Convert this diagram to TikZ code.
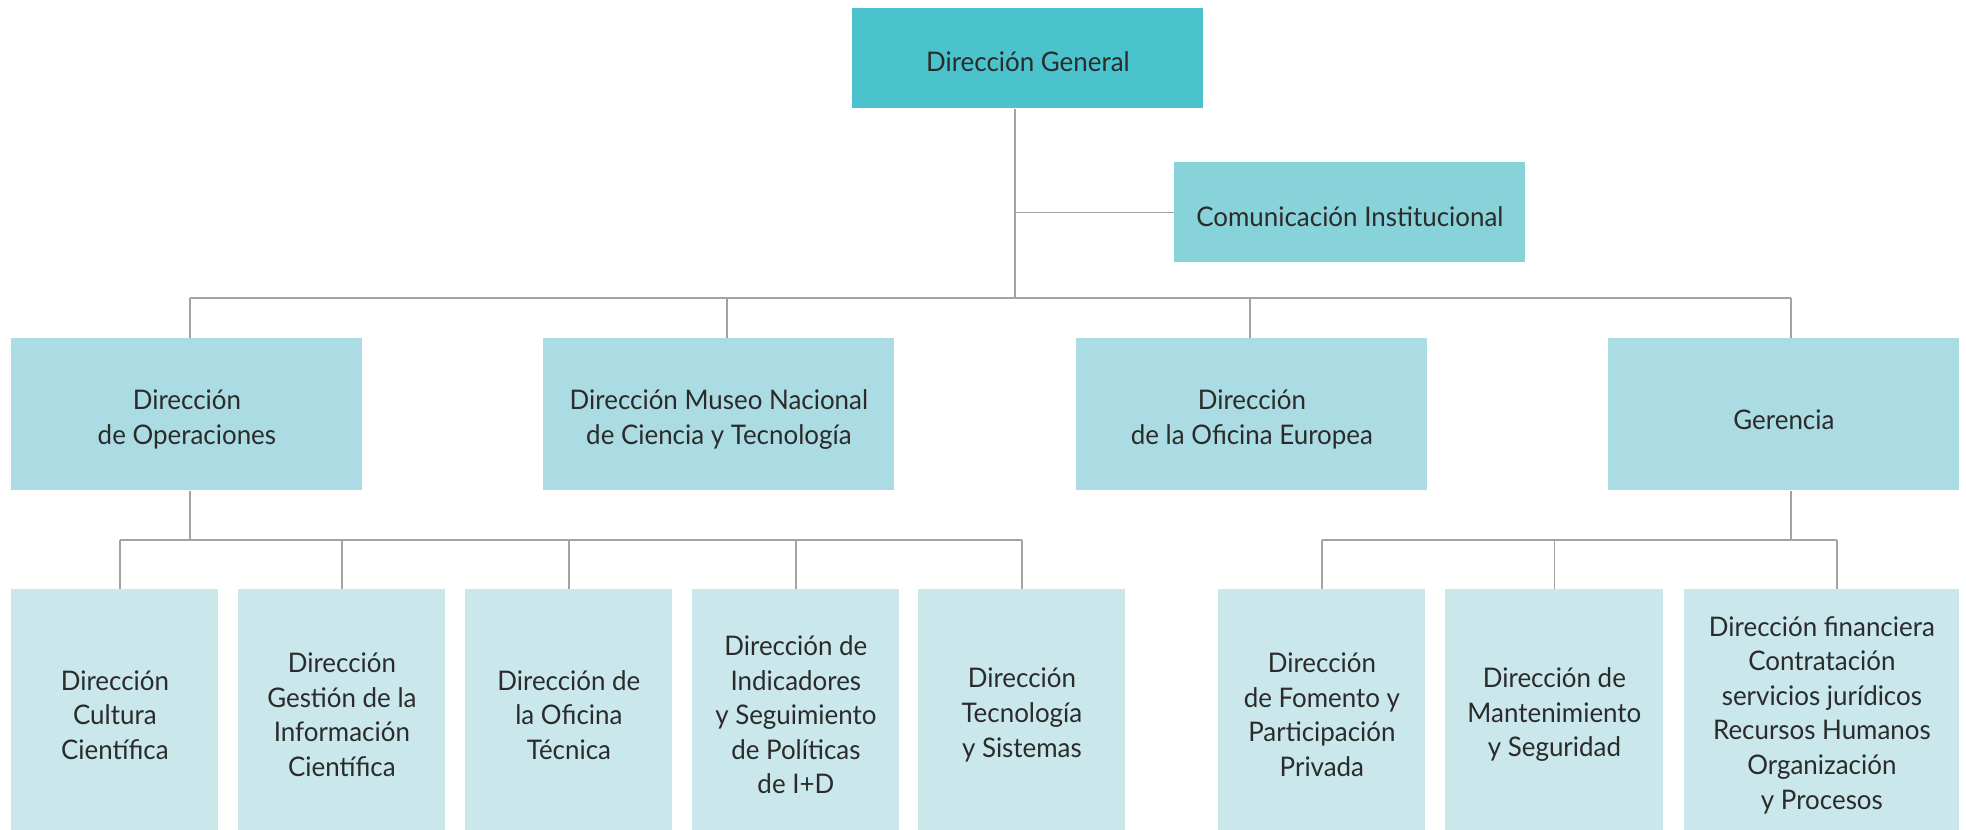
\documentclass[tikz,border=0pt]{standalone}
\usepackage{fontspec}
\setmainfont[FakeStretch=0.96]{Lato}
\definecolor{cTop}{HTML}{4BC3CC}
\definecolor{cCom}{HTML}{88D2DA}
\definecolor{cMid}{HTML}{ABDCE3}
\definecolor{cLow}{HTML}{CAE8EC}
\definecolor{cLine}{HTML}{A3A3A3}
\definecolor{cText}{HTML}{2B2B2B}
\tikzset{
  box/.style={anchor=north west, inner sep=0pt},
  txt/.style={inner sep=0pt, align=center, text=cText,
    font=\fontsize{13.5pt}{17.3pt}\selectfont},
  topbox/.style={box, fill=cTop, minimum width=175.5pt, minimum height=50pt},
  combox/.style={box, fill=cCom, minimum width=175.5pt, minimum height=50pt},
  midbox/.style={box, fill=cMid, minimum width=175.5pt, minimum height=76pt},
  lowbox/.style={box, fill=cLow, minimum height=120.5pt},
  conn/.style={draw=cLine, line width=0.75pt}
}
\begin{document}
\begin{tikzpicture}[x=0.5pt,y=-0.5pt]
\useasboundingbox (0,0) rectangle (1966,830);
% level 0/1
\node[topbox] (dg) at (852,8) {};
\node[combox] (ci) at (1174,162) {};
% level 2
\node[midbox] (op) at (11,338) {};
\node[midbox] (mu) at (543,338) {};
\node[midbox] (eu) at (1076,338) {};
\node[midbox] (ge) at (1608,338) {};
% level 3 left
\node[lowbox, minimum width=103.5pt] (l1) at (11,589) {};
\node[lowbox, minimum width=103.5pt] (l2) at (238,589) {};
\node[lowbox, minimum width=103.5pt] (l3) at (465,589) {};
\node[lowbox, minimum width=103.5pt] (l4) at (692,589) {};
\node[lowbox, minimum width=103.5pt] (l5) at (918,589) {};
% level 3 right
\node[lowbox, minimum width=103.5pt] (r1) at (1218,589) {};
\node[lowbox, minimum width=109pt] (r2) at (1445,589) {};
\node[lowbox, minimum width=137.5pt] (r3) at (1684,589) {};
% texts
\node[txt] (dgT) at ([yshift=-1.5pt]dg.center) {Dirección General};
\node[txt] (ciT) at ([yshift=-2pt]ci.center) {Comunicación Institucional};
\node[txt] (opT) at ([yshift=-2.5pt]op.center) {Dirección\\de Operaciones};
\node[txt] (muT) at ([yshift=-2.5pt]mu.center) {Dirección Museo Nacional\\de Ciencia y Tecnología};
\node[txt] (euT) at ([yshift=-2.5pt]eu.center) {Dirección\\de la Oficina Europea};
\node[txt] (geT) at ([yshift=-2.5pt]ge.center) {Gerencia};
\node[txt] (l1T) at ([yshift=-2.5pt]l1.center) {Dirección\\Cultura\\Científica};
\node[txt] (l2T) at ([yshift=-2.5pt]l2.center) {Dirección\\Gestión de la\\Información\\Científica};
\node[txt] (l3T) at ([yshift=-2.5pt]l3.center) {Dirección de\\la Oficina\\Técnica};
\node[txt] (l4T) at ([yshift=-2.5pt]l4.center) {Dirección de\\Indicadores\\y Seguimiento\\de Políticas\\de I+D};
\node[txt] (l5T) at ([yshift=-2.5pt]l5.center) {Dirección\\Tecnología\\y Sistemas};
\node[txt] (r1T) at ([yshift=-2.5pt]r1.center) {Dirección\\de Fomento y\\Participación\\Privada};
\node[txt] (r2T) at ([yshift=-2.5pt]r2.center) {Dirección de\\Mantenimiento\\y Seguridad};
\node[txt] (r3T) at ([yshift=-2.5pt]r3.center) {Dirección financiera\\Contratación\\servicios jurídicos\\Recursos Humanos\\Organización\\y Procesos};
% junction coordinates
\coordinate (tr) at (1015,298);
\coordinate (trL) at (190,298);
\coordinate (trR) at (1791,298);
\coordinate (jOp) at (190,540);
\coordinate (jOpL) at (120,540);
\coordinate (jOpR) at (1022,540);
\coordinate (jGe) at (1791,540);
\coordinate (jGeL) at (1322,540);
\coordinate (jGeR) at (1837,540);
% connectors top
\draw[conn] (dg.south -| tr) -- (tr);
\draw[conn] (ci.west -| tr) -- (ci.west);
\draw[conn] (trL) -- (trR);
\draw[conn] (trL) -- (trL |- op.north);
\draw[conn] (tr -| 727,0) -- (mu.north -| 727,0);
\draw[conn] (tr -| 1250,0) -- (eu.north -| 1250,0);
\draw[conn] (trR) -- (trR |- ge.north);
% operaciones subtree
\draw[conn] (op.south -| jOp) -- (jOp);
\draw[conn] (jOpL) -- (jOpR);
\draw[conn] (jOpL) -- (jOpL |- l1.north);
\draw[conn] (jOp -| l2.north) -- (l2.north);
\draw[conn] (jOp -| l3.north) -- (l3.north);
\draw[conn] (jOp -| l4.north) -- (l4.north);
\draw[conn] (jOpR) -- (jOpR |- l5.north);
% gerencia subtree
\draw[conn] (ge.south -| jGe) -- (jGe);
\draw[conn] (jGeL) -- (jGeR);
\draw[conn] (jGeL) -- (jGeL |- r1.north);
\draw[conn] (jGe -| r2.north) -- (r2.north);
\draw[conn] (jGeR) -- (jGeR |- r3.north);
\end{tikzpicture}
\end{document}
